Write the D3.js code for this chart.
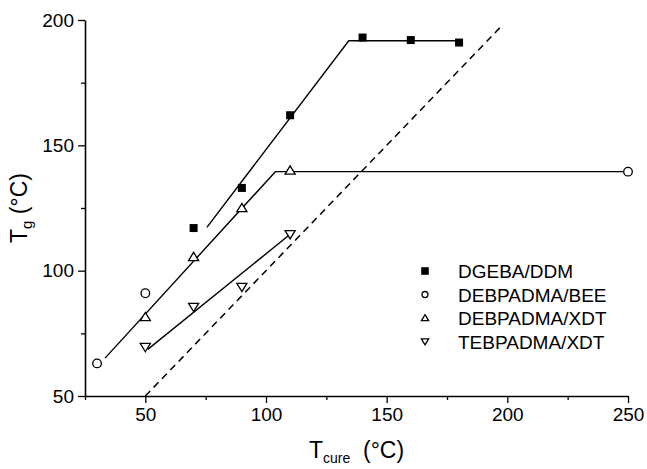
<!DOCTYPE html>
<html><head><meta charset="utf-8">
<script src="https://cdn.jsdelivr.net/npm/d3@7"></script>
<style>
html,body{margin:0;padding:0;background:#fff;}
svg{display:block;font-family:"Liberation Sans",Arial,sans-serif;}
</style></head>
<body>
<svg id="c" width="647" height="469"></svg>
<script>
// ---- data ----
const xMajorTicks = [50, 100, 150, 200, 250];
const xMinorTicks = [25, 75, 125, 175, 225];
const yMajorTicks = [50, 100, 150, 200];
const yMinorTicks = [75, 125, 175];

const seriesNames = ["DGEBA/DDM", "DEBPADMA/BEE", "DEBPADMA/XDT", "TEBPADMA/XDT"];

const dgebaX = [70, 90, 110, 140, 160, 180];
const dgebaY = [117, 133, 162, 193, 192, 191];
const beeX = [30, 50, 250];
const beeY = [63, 91, 139.5];
const debXdtX = [50, 70, 90, 110];
const debXdtY = [81.5, 105.5, 125, 140];
const tebXdtX = [50, 70, 90, 110];
const tebXdtY = [69.5, 85.5, 93.5, 114.5];

// fitted lines
const dgebaFitX = [75.5, 134.3, 180];
const dgebaFitY = [117.3, 191.7, 191.7];
const debFitX = [33.3, 103.9, 250];
const debFitY = [65.1, 139.5, 139.5];
const tebFitX = [51, 110];
const tebFitY = [68.6, 114.5];
const diagX = [50, 198];
const diagY = [50, 198];

// ---- chart ----
const svg = d3.select("#c");
const x = d3.scaleLinear().domain([25, 250]).range([85, 628]);
const y = d3.scaleLinear().domain([50, 200]).range([396, 20]);

const zip = (a, b) => a.map((v, i) => [v, b[i]]);
const line = d3.line().x(d => x(d[0])).y(d => y(d[1]));

// axes
const gx = svg.append("g").attr("transform", `translate(0,${y(50)})`);
gx.call(d3.axisBottom(x).tickValues(xMajorTicks).tickSize(7).tickSizeOuter(0).tickPadding(5).tickFormat(d3.format("d")));
const gxm = svg.append("g").attr("transform", `translate(0,${y(50)})`);
gxm.call(d3.axisBottom(x).tickValues(xMinorTicks).tickSize(4).tickSizeOuter(0).tickFormat(""));
gxm.select(".domain").remove();

const gy = svg.append("g").attr("transform", `translate(${x(25)},0)`);
gy.call(d3.axisLeft(y).tickValues(yMajorTicks).tickSize(7).tickSizeOuter(0).tickPadding(4).tickFormat(d3.format("d")));
const gym = svg.append("g").attr("transform", `translate(${x(25)},0)`);
gym.call(d3.axisLeft(y).tickValues(yMinorTicks).tickSize(4).tickSizeOuter(0).tickFormat(""));
gym.select(".domain").remove();

svg.selectAll(".domain").attr("stroke", "#000").attr("stroke-width", 1.6);
svg.selectAll(".tick line").attr("stroke", "#000").attr("stroke-width", 1.3);
svg.selectAll(".tick text").attr("font-size", 19).attr("fill", "#000").attr("font-family", "'Liberation Sans',Arial,sans-serif");

// axis titles
const yt = svg.append("text")
  .attr("transform", `translate(27,${(y(50) + y(200)) / 2}) rotate(-90)`)
  .attr("text-anchor", "middle").attr("font-size", 23).attr("fill", "#000");
yt.append("tspan").text("T");
yt.append("tspan").attr("font-size", 15).attr("dy", 5).text("g");
yt.append("tspan").attr("dy", -5).text("\u00a0(\u00b0C)");

const xt = svg.append("text")
  .attr("x", (x(25) + x(250)) / 2).attr("y", 458)
  .attr("text-anchor", "middle").attr("font-size", 23).attr("fill", "#000");
xt.append("tspan").text("T");
xt.append("tspan").attr("font-size", 14).attr("dy", 5).text("cure");
xt.append("tspan").attr("dy", -5).text("\u00a0\u00a0(\u00b0C)");

// reference line Tg = Tcure
svg.append("path").datum(zip(diagX, diagY)).attr("d", line)
  .attr("fill", "none").attr("stroke", "#000").attr("stroke-width", 1.5).attr("stroke-dasharray", "7,5");

// fitted lines
[[dgebaFitX, dgebaFitY], [debFitX, debFitY], [tebFitX, tebFitY]].forEach(([a, b]) => {
  svg.append("path").datum(zip(a, b)).attr("d", line)
    .attr("fill", "none").attr("stroke", "#000").attr("stroke-width", 1.4);
});

// symbols
const sq = s => `M${-s},${-s}H${s}V${s}H${-s}Z`;
const triUp = s => `M0,${-s}L${s * 1.1},${s * 0.8}L${-s * 1.1},${s * 0.8}Z`;
const triDown = s => `M0,${s}L${s * 1.1},${-s * 0.8}L${-s * 1.1},${-s * 0.8}Z`;

function drawMarker(g, type, size) {
  if (type === 0) g.append("path").attr("d", sq(size)).attr("fill", "#000");
  else if (type === 1) g.append("circle").attr("r", size).attr("fill", "#fff").attr("stroke", "#000").attr("stroke-width", 1.3);
  else if (type === 2) g.append("path").attr("d", triUp(size)).attr("fill", "#fff").attr("stroke", "#000").attr("stroke-width", 1.3);
  else g.append("path").attr("d", triDown(size)).attr("fill", "#fff").attr("stroke", "#000").attr("stroke-width", 1.3);
}

const seriesData = [zip(dgebaX, dgebaY), zip(beeX, beeY), zip(debXdtX, debXdtY), zip(tebXdtX, tebXdtY)];
const sizes = [4, 4.3, 4.6, 4.6];
seriesData.forEach((pts, si) => {
  svg.append("g").selectAll("g").data(pts).join("g")
    .attr("transform", d => `translate(${x(d[0])},${y(d[1])})`)
    .each(function () { drawMarker(d3.select(this), si, sizes[si]); });
});

// legend
const legSizes = [3.8, 3, 3.3, 3.3];
const leg = svg.append("g");
seriesNames.forEach((name, i) => {
  const gy0 = 271 + i * 23.5;
  const m = leg.append("g").attr("transform", `translate(425,${gy0})`);
  drawMarker(m, i, legSizes[i]);
  leg.append("text").attr("x", 458).attr("y", gy0 + 7).attr("font-size", 19).attr("fill", "#000").text(name);
});
</script>
</body></html>
